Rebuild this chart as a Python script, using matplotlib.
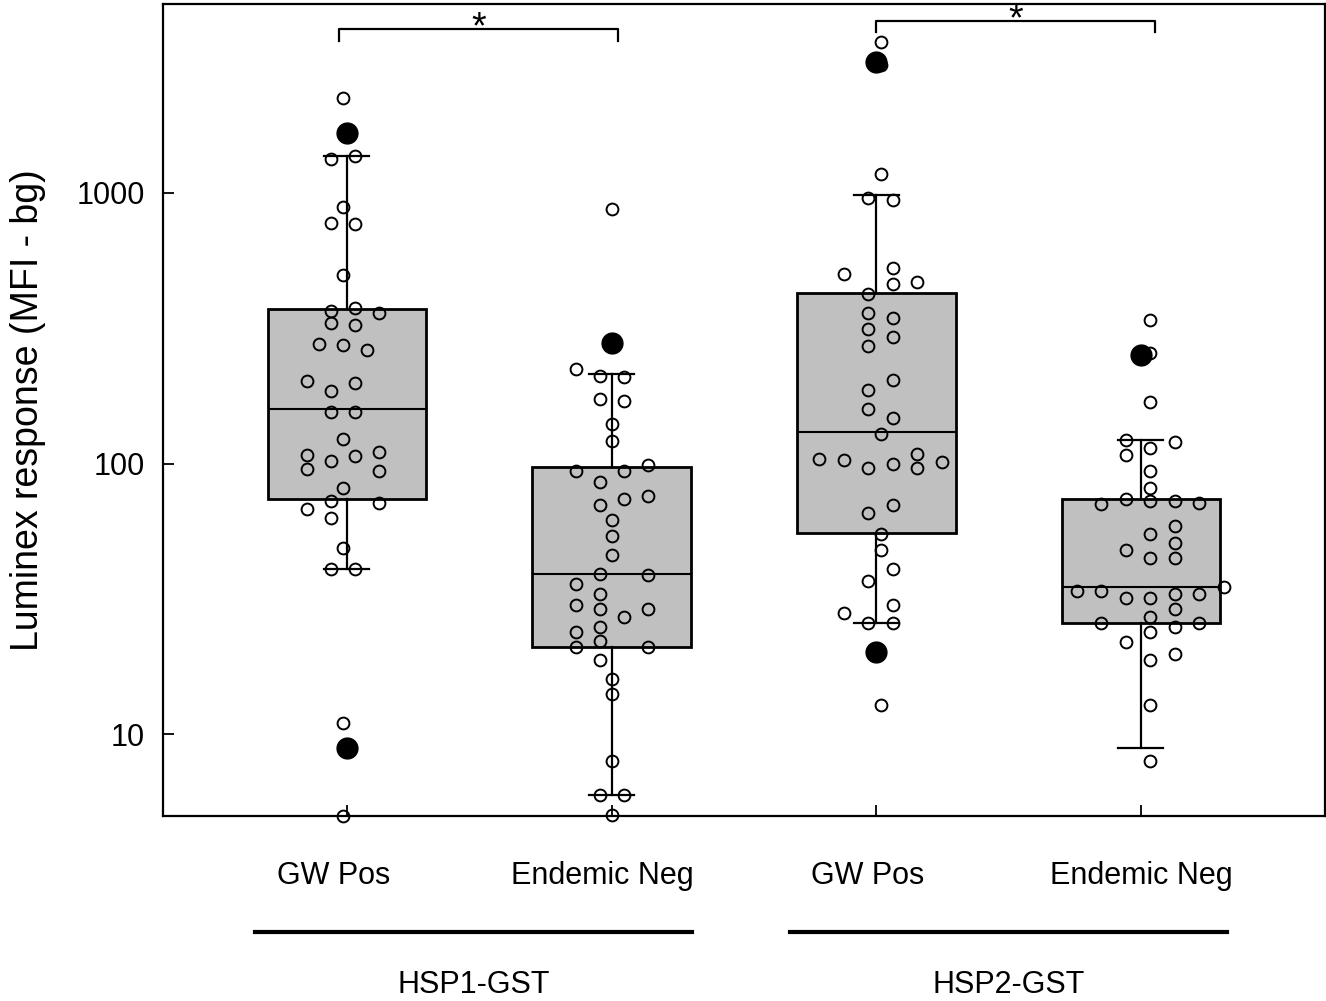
import matplotlib
matplotlib.use("Agg")
import matplotlib.pyplot as plt
import matplotlib.transforms as mtransforms

plt.rcParams["font.family"] = ["Liberation Sans", "DejaVu Sans"]

# ---- data ----
conditions = ["GW Pos", "Endemic Neg", "GW Pos", "Endemic Neg"]
antigens = ["HSP1-GST", "HSP2-GST"]

box_q1 = [73.9, 21.0, 55.3, 25.7]
box_med = [159, 39.0, 131, 34.9]
box_q3 = [372, 97.1, 427, 73.9]
whisk_lo = [40.9, 6.0, 25.9, 8.95]
whisk_hi = [1370, 214, 983, 122]

g1_vals = [2245, 1336, 1370, 888, 775, 769, 498, 366, 376, 360,
           331, 325, 277, 274, 263, 202, 185, 198, 155, 155,
           123, 108, 95.4, 102, 107, 110, 93.8, 81.2, 72.6, 67.9,
           62.9, 71.4, 48.7, 40.9, 40.9, 11.0, 5.0]
g1_slot = [0, -1, 1, 0, -1, 1, 0, -1, 1, 3,
           -1, 1, -2, 0, 2, -3, -1, 1, -1, 1,
           0, -3, -3, -1, 1, 3, 3, 0, -1, -3,
           -1, 3, 0, -1, 1, 0, 0]
g1_filled = [1667, 8.95]

g2_vals = [873, 223, 211, 209, 173, 170, 140, 121, 93.8, 93.8,
           98.7, 85.4, 70.2, 73.9, 75.8, 61.8, 53.9, 45.9, 39.0, 38.7,
           35.8, 32.9, 30.0, 29.0, 27.1, 29.0, 24.0, 24.9, 22.1, 21.0,
           21.0, 18.9, 16.0, 14.1, 8.0, 6.0, 6.0, 5.05]
g2_slot = [0, -3, -1, 1, -1, 1, 0, 0, -3, 1,
           3, -1, -1, 1, 3, 0, 0, 0, -1, 3,
           -3, -1, -3, -1, 1, 3, -3, -1, -1, -3,
           3, -1, 0, 0, 0, -1, 1, 0]
g2_filled = [279]

g3_vals = [3615, 2973, 1175, 958, 942, 502, 528, 461, 469, 423,
           360, 314, 272, 345, 294, 204, 187, 159, 147, 129,
           104, 103, 96.2, 99.5, 109, 96.2, 101, 65.6, 70.3, 54.9,
           47.9, 40.7, 36.8, 28.0, 30.0, 25.9, 25.7, 12.9]
g3_slot = [1, 1, 1, 0, 2, -2, 2, 2, 4, 0,
           0, 0, 0, 2, 2, 2, 0, 0, 2, 1,
           -4, -2, 0, 2, 4, 4, 6, 0, 2, 1,
           1, 2, 0, -2, 2, 0, 2, 1]
g3_filled = [3050, 20.1]

g4_vals = [339, 256, 169, 122, 108, 114, 120, 93.8, 81.2, 70.8,
           73.9, 72.6, 72.6, 71.4, 54.9, 58.7, 50.8, 47.9, 44.7, 44.7,
           33.8, 33.8, 34.9, 31.8, 31.8, 32.9, 32.9, 29.0, 27.1, 25.7,
           23.8, 24.9, 25.7, 21.9, 18.9, 19.9, 12.9, 7.95]
g4_slot = [2, 2, 2, 0, 0, 2, 4, 2, 2, -2,
           0, 2, 4, 6, 2, 4, 4, 0, 2, 4,
           -4, -2, 8, 0, 2, 4, 6, 4, 2, -2,
           2, 4, 6, 0, 2, 4, 2, 2]
g4_filled = [252]

# ---- layout ----
fig = plt.figure(figsize=(13.26, 10.01), dpi=100)
ax = fig.add_axes([0.1229, 0.1848, 0.8763, 0.8117])

positions = [1, 2, 3, 4]
stats = []
for i in range(4):
    stats.append(dict(whislo=whisk_lo[i], q1=box_q1[i], med=box_med[i],
                      q3=box_q3[i], whishi=whisk_hi[i]))
ax.bxp(stats, positions=positions, widths=0.60, capwidths=0.17,
       showfliers=False, patch_artist=True,
       boxprops=dict(facecolor="#c0c0c0", edgecolor="black", linewidth=2.0),
       medianprops=dict(color="black", linewidth=1.5),
       whiskerprops=dict(color="black", linewidth=1.6),
       capprops=dict(color="black", linewidth=1.6))

slot_w = 0.0463
groups = [(g1_vals, g1_slot, g1_filled, -0.015, 0.0453),
          (g2_vals, g2_slot, g2_filled, 0.0, 0.0453),
          (g3_vals, g3_slot, g3_filled, -0.030, slot_w),
          (g4_vals, g4_slot, g4_filled, -0.057, slot_w)]
for pos, (vals, slots, filled, shift, step) in zip(positions, groups):
    xs = [pos + shift + s * step for s in slots]
    ax.plot(xs, vals, linestyle="none", marker="o", markersize=8.5,
            markerfacecolor="none", markeredgecolor="black",
            markeredgewidth=1.4, clip_on=False, zorder=4)
    ax.plot([pos] * len(filled), filled, linestyle="none", marker="o",
            markersize=15, color="black", clip_on=False, zorder=5)

ax.set_yscale("log")
ax.set_ylim(5, 5000)
ax.set_xlim(0.305, 4.695)
ax.set_yticks([10, 100, 1000])
ax.set_yticklabels(["10", "100", "1000"])
ax.yaxis.set_minor_locator(matplotlib.ticker.NullLocator())
ax.set_xticks(positions)
ax.set_xticklabels([])
ax.tick_params(axis="both", direction="in", length=8, width=1.3,
               labelsize=22, pad=13)
for sp in ax.spines.values():
    sp.set_linewidth(1.6)

ax.set_ylabel("Luminex response (MFI - bg)", fontsize=27)
ax.yaxis.set_label_coords(-0.101, 0.5)

# significance brackets
def bracket(x0, x1, y, ydrop):
    ax.plot([x0, x0, x1, x1], [ydrop, y, y, ydrop], color="black",
            linewidth=1.6, clip_on=False)
    ax.annotate("*", xy=((x0 + x1) / 2, y), xytext=(0, -7),
                textcoords="offset points", ha="center", va="baseline",
                fontsize=27)

bracket(0.970, 2.025, 4036, 3648)
bracket(2.998, 4.053, 4325, 3936)

# category labels and group bars below the axis
trans = mtransforms.blended_transform_factory(ax.transData, fig.transFigure)
label_x = [0.951, 1.964, 2.968, 4.0]
for x, lab in zip(label_x, conditions):
    ax.text(x, 0.1249, lab, ha="center", va="center", fontsize=22,
            transform=trans)
bar_spans = [(0.652, 2.304), (2.673, 4.325)]
for (x0, x1), name in zip(bar_spans, antigens):
    ax.plot([x0, x1], [0.0689, 0.0689], color="black", linewidth=3,
            transform=trans, clip_on=False)
    ax.text((x0 + x1) / 2, 0.016, name, ha="center", va="center",
            fontsize=22, transform=trans)

fig.savefig("out.png", dpi=100)
